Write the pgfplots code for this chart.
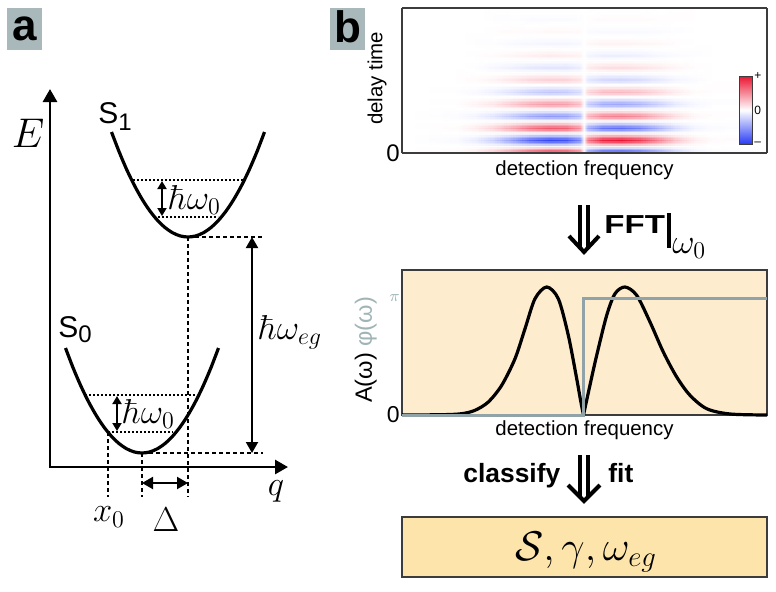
\documentclass[border=0pt]{standalone}
\usepackage[no-math]{fontspec}
\setmainfont{Liberation Sans}
\usepackage{pgfplots}
\pgfplotsset{compat=1.18}
\usepgfplotslibrary{patchplots}
\usetikzlibrary{arrows.meta,calc}
\definecolor{labgray}{RGB}{169,185,187}
\definecolor{phase}{RGB}{143,163,168}
\definecolor{phasetext}{RGB}{160,180,182}
\definecolor{abg}{RGB}{253,236,206}
\definecolor{boxbg}{RGB}{252,228,170}
\definecolor{frame}{RGB}{60,60,60}
\begin{document}
\begin{tikzpicture}
\useasboundingbox (0,0) rectangle (388pt,295.5pt);
% ---------- overlay axis in pixel units (panel a, arrows, boxes) ----------
\begin{axis}[at={(0pt,0pt)}, anchor=south west, scale only axis,
  width=388pt, height=295.5pt, xmin=0, xmax=776, ymin=0, ymax=591,
  y dir=reverse, hide axis, clip=false]
% panel labels
\fill[labgray] (7,8) rectangle (42,50);
\node[font=\fontsize{22}{22}\selectfont\bfseries] at (24.5,29) {a};
\fill[labgray] (330,8) rectangle (365,50);
\node[font=\fontsize{22}{22}\selectfont\bfseries] at (348,27) {b};
% E / q axes
\draw[line width=1.4pt, line join=miter, {Triangle[width=7pt,length=6.5pt]}-{Triangle[width=7pt,length=6.5pt]}] (50,89) -- (50,467) -- (288,467);
\node[font=\fontsize{20}{20}\selectfont] at (28,133) {$E$};
\node[font=\fontsize{17.5}{17.5}\selectfont] at (276,491) {$q$};
% S1 parabola
\addplot[line width=1.6pt, smooth] coordinates {
(111.5,132) (119.2,151.95) (126.8,169.8) (134.5,185.55) (142.1,199.2) (149.75,210.75)
(157.4,220.2) (165.05,227.55) (172.7,232.8) (180.35,235.95) (188,237)
(195.65,235.95) (203.3,232.8) (210.95,227.55) (218.6,220.2) (226.25,210.75)
(233.9,199.2) (241.55,185.55) (249.2,169.8) (256.85,151.95) (264.5,132)};
% S0 parabola
\addplot[line width=1.6pt, smooth] coordinates {
(65.5,348) (73.15,367.95) (80.8,385.8) (88.45,401.55) (96.1,415.2) (103.75,426.75)
(111.4,436.2) (119.05,443.55) (126.7,448.8) (134.35,451.95) (142,453)
(149.65,451.95) (157.3,448.8) (164.95,443.55) (172.6,436.2) (180.25,426.75)
(187.9,415.2) (195.55,401.55) (203.2,385.8) (210.85,367.95) (218.5,348)};
\node[anchor=base west, inner sep=0, font=\fontsize{15}{15}\selectfont] at (98,123) {S\raisebox{-3.5pt}{\fontsize{12}{12}\selectfont 1}};
\node[anchor=base west, inner sep=0, font=\fontsize{15}{15}\selectfont] at (58,337) {S\raisebox{-2.5pt}{\fontsize{12}{12}\selectfont 0}};
% level lines
\draw[line width=0.6pt, dash pattern=on 1.2pt off 0.8pt] (133,180) -- (243,180);
\draw[line width=0.6pt, dash pattern=on 1.2pt off 0.8pt] (158,217) -- (218,217);
\draw[line width=0.6pt, dash pattern=on 1.2pt off 0.8pt] (85,395) -- (197,395);
\draw[line width=0.6pt, dash pattern=on 1.2pt off 0.8pt] (108,432) -- (173,432);
% connectors
\draw[line width=0.7pt, dash pattern=on 2pt off 1.5pt] (188,237) -- (265,237);
\draw[line width=0.7pt, dash pattern=on 2pt off 1.5pt] (188,237) -- (188,497);
\draw[line width=0.7pt, dash pattern=on 2pt off 1.5pt] (142,453) -- (263,453);
\draw[line width=0.7pt, dash pattern=on 2pt off 1.5pt] (142,453) -- (142,497);
\draw[line width=0.7pt, dash pattern=on 2pt off 1.5pt] (108,432) -- (108,497);
% arrows
\draw[line width=0.9pt, {Triangle[width=4.5pt,length=4pt]}-{Triangle[width=4.5pt,length=4pt]}] (162,181) -- (162,216);
\draw[line width=0.9pt, {Triangle[width=4.5pt,length=4pt]}-{Triangle[width=4.5pt,length=4pt]}] (117,396) -- (117,431);
\draw[line width=1pt, {Triangle[width=6pt,length=5.5pt]}-{Triangle[width=6pt,length=5.5pt]}] (252,237) -- (252,453);
\draw[line width=1pt, {Triangle[width=6pt,length=5.5pt]}-{Triangle[width=6pt,length=5.5pt]}] (142,483) -- (188,483);
\node[anchor=west, inner sep=0, font=\fontsize{17.5}{17.5}\selectfont] at (168.5,200) {$\hbar\omega_0$};
\node[anchor=west, inner sep=0, font=\fontsize{17.5}{17.5}\selectfont] at (122.5,414) {$\hbar\omega_0$};
\node[anchor=west, inner sep=0, font=\fontsize{17.5}{17.5}\selectfont] at (258.5,332) {$\hbar\omega_{eg}$};
\node[font=\fontsize{17.5}{17.5}\selectfont] at (109,517) {$x_0$};
\node[font=\fontsize{17.5}{17.5}\selectfont] at (166,520) {$\Delta$};
% FFT arrow
\draw[line width=2pt] (580,205) -- (580,248);
\draw[line width=2pt] (588,205) -- (588,248);
\draw[line width=2pt, line join=miter] (569,236) -- (584,252) -- (599,236);
\node[anchor=base west, inner sep=0, font=\fontsize{13}{13}\selectfont\bfseries] at (604,233) {\scalebox{1.27}[1]{FFT}};
\draw[line width=2pt] (668.5,213) -- (668.5,248);
\node[anchor=base west, inner sep=0, font=\fontsize{18.5}{18.5}\selectfont] at (672,253) {$\omega_0$};
% classify / fit arrow
\draw[line width=2pt] (580,455) -- (580,498);
\draw[line width=2pt] (588,455) -- (588,498);
\draw[line width=2pt, line join=miter] (568,485) -- (584,501) -- (600,485);
\node[anchor=base west, inner sep=0, font=\fontsize{13.2}{13.2}\selectfont\bfseries] at (463,482) {classify};
\node[anchor=base west, inner sep=0, font=\fontsize{13.2}{13.2}\selectfont\bfseries] at (608,482) {fit};
% result box
\draw[draw=frame, line width=0.6pt, fill=boxbg] (402,517) rectangle (767,577);
\node[anchor=base, font=\fontsize{20}{20}\selectfont] at (586,560) {$\mathcal{S}, \gamma, \omega_{eg}$};
\end{axis}
% ---------- heatmap ----------
\begin{axis}[at={(201pt,219pt)}, anchor=south west, scale only axis,
  width=182.5pt, height=72.5pt, view={0}{90},
  xmin=0, xmax=100, ymin=0, ymax=12,
  xtick=\empty, ytick={0}, yticklabels={0},
  yticklabel style={font=\fontsize{12}{12}\selectfont, inner sep=1pt},
  major tick length=0pt,
  axis line style={draw=frame, line width=0.6pt}, axis on top,
  colormap={bwr}{rgb255=(40,60,245) rgb255=(255,255,255) rgb255=(235,20,50)},
  point meta min=-100, point meta max=100,
  colorbar,
  colorbar style={at={($(parent axis.south west)+(160pt,4.5pt)$)}, anchor=south west,
    scale only axis, width=6.5pt, height=34pt,
    ytick={-100,0,100}, yticklabels={–,0,+},
    yticklabel style={font=\fontsize{6}{6}\selectfont, inner sep=1pt},
    major tick length=0pt, axis line style={draw=frame, line width=0.4pt}},
  xlabel={detection frequency}, ylabel={delay time},
  label style={font=\fontsize{10.2}{12}\selectfont},
  ylabel style={at={(axis description cs:-0.068,0.514)}, anchor=center},
  xlabel style={at={(axis description cs:0.5,-0.117)}, anchor=center}]
\addplot3[surf, shader=interp, patch type=bilinear] coordinates {
(0,0,0) (15,0,3) (20,0,9) (25,0,23) (30,0,45) (35,0,72) (40,0,86) (45,0,81) (49,0,54) (50,0,0) (51,0,-54) (55,0,-86) (60,0,-90) (65,0,-77) (70,0,-50) (75,0,-23) (80,0,-7) (85,0,-2) (100,0,0)

(0,1,0) (15,1,-3) (20,1,-10) (25,1,-25) (30,1,-50) (35,1,-80) (40,1,-95) (45,1,-90) (49,1,-60) (50,1,0) (51,1,60) (55,1,95) (60,1,100) (65,1,85) (70,1,55) (75,1,25) (80,1,8) (85,1,2) (100,1,0)

(0,2,0) (15,2,2) (20,2,8) (25,2,19) (30,2,38) (35,2,60) (40,2,71) (45,2,68) (49,2,45) (50,2,0) (51,2,-45) (55,2,-71) (60,2,-75) (65,2,-64) (70,2,-41) (75,2,-19) (80,2,-6) (85,2,-2) (100,2,0)

(0,3,0) (15,3,-2) (20,3,-6) (25,3,-14) (30,3,-28) (35,3,-44) (40,3,-52) (45,3,-50) (49,3,-33) (50,3,0) (51,3,33) (55,3,52) (60,3,55) (65,3,47) (70,3,30) (75,3,14) (80,3,4) (85,3,1) (100,3,0)

(0,4,0) (15,4,1) (20,4,5) (25,4,11) (30,4,23) (35,4,36) (40,4,43) (45,4,41) (49,4,27) (50,4,0) (51,4,-27) (55,4,-43) (60,4,-45) (65,4,-38) (70,4,-25) (75,4,-11) (80,4,-4) (85,4,-1) (100,4,0)

(0,5,0) (15,5,-1) (20,5,-3) (25,5,-8) (30,5,-15) (35,5,-24) (40,5,-29) (45,5,-27) (49,5,-18) (50,5,0) (51,5,18) (55,5,29) (60,5,30) (65,5,26) (70,5,17) (75,5,8) (80,5,2) (85,5,1) (100,5,0)

(0,6,0) (15,6,1) (20,6,2) (25,6,5) (30,6,10) (35,6,16) (40,6,19) (45,6,18) (49,6,12) (50,6,0) (51,6,-12) (55,6,-19) (60,6,-20) (65,6,-17) (70,6,-11) (75,6,-5) (80,6,-2) (85,6,0) (100,6,0)

(0,7,0) (15,7,0) (20,7,-1) (25,7,-4) (30,7,-7) (35,7,-11) (40,7,-13) (45,7,-13) (49,7,-8) (50,7,0) (51,7,8) (55,7,13) (60,7,14) (65,7,12) (70,7,8) (75,7,4) (80,7,1) (85,7,0) (100,7,0)

(0,8,0) (15,8,0) (20,8,1) (25,8,2) (30,8,4) (35,8,6) (40,8,8) (45,8,7) (49,8,5) (50,8,0) (51,8,-5) (55,8,-8) (60,8,-8) (65,8,-7) (70,8,-4) (75,8,-2) (80,8,-1) (85,8,0) (100,8,0)

(0,9,0) (15,9,0) (20,9,-1) (25,9,-1) (30,9,-3) (35,9,-4) (40,9,-5) (45,9,-5) (49,9,-3) (50,9,0) (51,9,3) (55,9,5) (60,9,5) (65,9,4) (70,9,3) (75,9,1) (80,9,0) (85,9,0) (100,9,0)

(0,10,0) (15,10,0) (20,10,0) (25,10,1) (30,10,2) (35,10,2) (40,10,3) (45,10,3) (49,10,2) (50,10,0) (51,10,-2) (55,10,-3) (60,10,-3) (65,10,-3) (70,10,-2) (75,10,-1) (80,10,0) (85,10,0) (100,10,0)

(0,11,0) (15,11,0) (20,11,0) (25,11,-1) (30,11,-1) (35,11,-2) (40,11,-2) (45,11,-2) (49,11,-1) (50,11,0) (51,11,1) (55,11,2) (60,11,2) (65,11,2) (70,11,1) (75,11,1) (80,11,0) (85,11,0) (100,11,0)

(0,12,0) (15,12,0) (20,12,0) (25,12,0) (30,12,1) (35,12,1) (40,12,1) (45,12,1) (49,12,1) (50,12,0) (51,12,-1) (55,12,-1) (60,12,-1) (65,12,-1) (70,12,-1) (75,12,0) (80,12,0) (85,12,0) (100,12,0)
};
\end{axis}
% ---------- amplitude / phase ----------
\begin{axis}[at={(201pt,88pt)}, anchor=south west, scale only axis,
  width=182.5pt, height=72.5pt,
  xmin=0, xmax=365, ymin=0, ymax=145, clip=false,
  xtick=\empty, ytick={0,117}, yticklabels={0,{\textcolor{phasetext}{\fontsize{8}{8}\selectfont$\pi$}}},
  yticklabel style={font=\fontsize{11.5}{11.5}\selectfont, inner sep=1pt},
  major tick length=0pt,
  axis background/.style={fill=abg},
  axis line style={draw=frame, line width=0.6pt},
  xlabel={detection frequency},
  ylabel={A(ω) \textcolor{phasetext}{φ(ω)}},
  label style={font=\fontsize{10.2}{12}\selectfont},
  ylabel style={at={(axis description cs:-0.099,0.448)}, anchor=center, font=\fontsize{11.8}{12}\selectfont},
  xlabel style={at={(axis description cs:0.5,-0.103)}, anchor=center}]
\addplot[line width=1.6pt, black, smooth] coordinates {
(0,0) (40,0.3) (59.7,1.3) (73,4.7) (86.3,13) (99.7,29.7) (113,56.3) (123,86.3)
(133,116.3) (144.7,128) (156.3,116.3) (166.3,79.7) (174.7,36.3) (178.5,15) (181.5,0)};
\addplot[line width=1.6pt, black, smooth] coordinates {
(181.5,0) (188,30) (194.7,59.7) (204.7,99.7) (213,121.3) (223,128) (234.7,119.7)
(248,93) (261.3,63) (274.7,38) (288,19.7) (304.7,6.3) (328,1) (365,0)};
\addplot[line width=1.5pt, phase, line join=miter] coordinates {
(0,0) (181.5,0) (181.5,117) (365,117)};
\end{axis}
\end{tikzpicture}
\end{document}
